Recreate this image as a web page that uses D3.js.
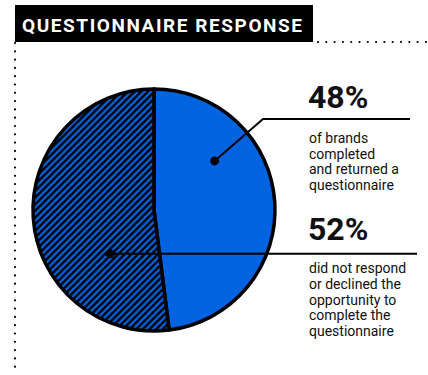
<!DOCTYPE html>
<html>
<head>
<meta charset="utf-8">
<script src="https://cdn.jsdelivr.net/npm/d3@7"></script>
<style>
  body { margin: 0; background: #fff; }
  svg { display: block; font-family: Roboto, "Noto Sans", sans-serif; }
</style>
</head>
<body>
<div id="chart"></div>
<script>
// chart data
var labels = ["48%", "52%"];
var values = [48, 52];
var notes = [
  ["of brands", "completed", "and returned a", "questionnaire"],
  ["did not respond", "or declined the", "opportunity to", "complete the", "questionnaire"]
];
var title = "QUESTIONNAIRE RESPONSE";

var width = 428, height = 375;
var cx = 154, cy = 210, r = 121;
var blue = "#0064e1";

var svg = d3.select("#chart").append("svg")
  .attr("width", width)
  .attr("height", height);

// hatch pattern for the second slice
var defs = svg.append("defs");
var pat = defs.append("pattern")
  .attr("id", "hatch")
  .attr("patternUnits", "userSpaceOnUse")
  .attr("width", 4.7).attr("height", 10)
  .attr("patternTransform", "rotate(45)");
pat.append("rect").attr("width", 4.7).attr("height", 10).attr("fill", blue);
pat.append("rect").attr("width", 2.4).attr("height", 10).attr("fill", "#000");

// dotted frame
var dotsV = d3.range(43, 375, 8.3);
svg.append("g").selectAll("circle")
  .data(dotsV).enter().append("circle")
  .attr("cx", 15).attr("cy", function(d) { return d; })
  .attr("r", 1.1).attr("fill", "#000");
var dotsH = d3.range(318, 428, 8.3);
svg.append("g").selectAll("circle")
  .data(dotsH).enter().append("circle")
  .attr("cx", function(d) { return d; }).attr("cy", 42)
  .attr("r", 1.1).attr("fill", "#000");

// title block
svg.append("rect")
  .attr("x", 15).attr("y", 5)
  .attr("width", 298).attr("height", 37)
  .attr("fill", "#000");
svg.append("text")
  .attr("x", 22).attr("y", 32)
  .attr("fill", "#fff")
  .attr("font-size", 19)
  .attr("font-weight", 700)
  .attr("textLength", 280)
  .attr("lengthAdjust", "spacing")
  .text(title);

// pie
var pie = d3.pie().sort(null).value(function(d) { return d; });
var arc = d3.arc().innerRadius(0).outerRadius(r);
var g = svg.append("g").attr("transform", "translate(" + cx + "," + cy + ")");
g.selectAll("path")
  .data(pie(values)).enter().append("path")
  .attr("d", arc)
  .attr("fill", function(d, i) { return i === 0 ? blue : "url(#hatch)"; })
  .attr("stroke", "#000")
  .attr("stroke-width", 3.5)
  .attr("stroke-linejoin", "round");

// callouts: anchor inside slice (angle in degrees, radius), elbow, line end, label position
var callouts = [
  { ang: 51, rad: 78, elbow: [263, 119], end: 410, labelY: 108, noteY: 143, step: 15.5 },
  { ang: 225, rad: 62, elbow: null, end: 417, labelY: 240, noteY: 273, step: 15.8 }
];

callouts.forEach(function(c, i) {
  var p = d3.pointRadial(c.ang * Math.PI / 180, c.rad);
  var ax = cx + p[0], ay = cy + p[1];
  var pts = c.elbow ? [[ax, ay], c.elbow, [c.end, c.elbow[1]]] : [[ax, ay], [c.end, ay]];
  svg.append("path")
    .attr("d", d3.line()(pts))
    .attr("fill", "none")
    .attr("stroke", "#000")
    .attr("stroke-width", 2);
  svg.append("circle")
    .attr("cx", ax).attr("cy", ay)
    .attr("r", 4.5).attr("fill", "#000");

  svg.append("text")
    .attr("x", 308).attr("y", c.labelY)
    .attr("font-size", 32)
    .attr("font-weight", 700)
    .attr("fill", "#111")
    .text(labels[i]);

  svg.append("g").selectAll("text")
    .data(notes[i]).enter().append("text")
    .attr("x", 309)
    .attr("y", function(d, j) { return c.noteY + j * c.step; })
    .attr("font-size", 14)
    .attr("fill", "#111")
    .text(function(d) { return d; });
});
</script>
</body>
</html>
